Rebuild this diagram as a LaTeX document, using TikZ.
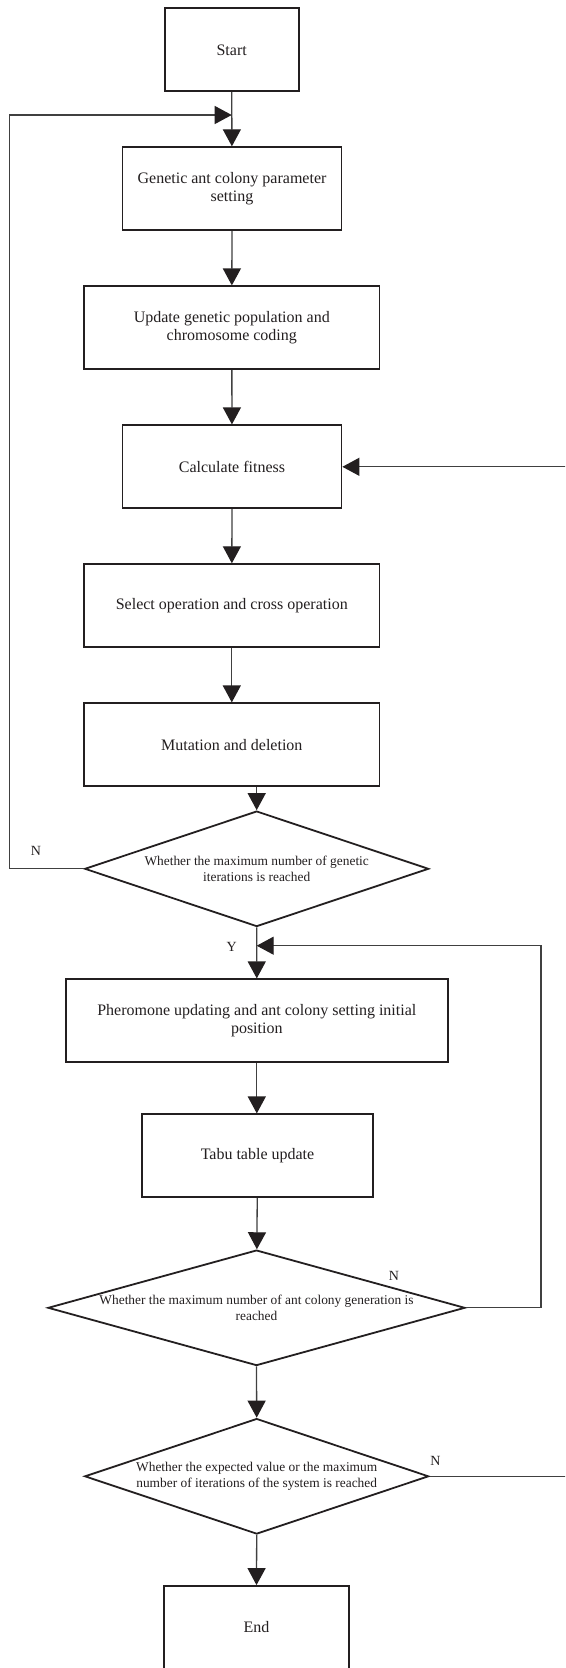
\documentclass[tikz,border=0pt]{standalone}
\usepackage{fontspec}
\setmainfont{Liberation Serif}
\usetikzlibrary{arrows.meta,shapes.geometric}
\definecolor{ink}{HTML}{231F20}
\definecolor{wirec}{HTML}{404040}
\begin{document}
\begin{tikzpicture}[x=1pt,y=-1pt,
 box/.style={draw=ink,line width=1.8pt,rectangle,minimum height=83pt,inner sep=0pt,align=center,text=ink,font=\fontsize{16}{18.3}\selectfont},
 dec/.style={draw=ink,line width=1.8pt,diamond,inner sep=0pt,minimum height=115.5pt},
 dtext/.style={align=center,text=ink,font=\fontsize{13.4}{16}\selectfont,inner sep=0pt},
 lab/.style={text=ink,font=\fontsize{14}{16}\selectfont,inner sep=0pt},
 wire/.style={draw=wirec,line width=1.3pt},
 arr/.style={wire,-{Triangle[length=17pt,width=18pt,color=ink]}}]
\fill[white] (0,0) rectangle (565,1668);
\useasboundingbox (0,0) rectangle (565,1668);
\clip (0,0) rectangle (565,1668);

\node[box,minimum width=134pt] (start) at (231.7,49.8) {Start};
\node[box,minimum width=219pt] (param) at (232,188.7) {Genetic ant colony parameter\\setting};
\node[box,minimum width=295.5pt] (update) at (231.8,327.8) {Update genetic population and\\chromosome coding};
\node[box,minimum width=219pt] (fit) at (232,466.8) {Calculate fitness};
\node[box,minimum width=295.5pt] (sel) at (231.8,605.7) {Select operation and cross operation};
\node[box,minimum width=295.5pt] (mut) at (231.8,744.8) {Mutation and deletion};
\node[dec,minimum width=344pt] (d1) at (256.7,868.8) {};
\node[dtext] (d1t) at (d1.center) {Whether the maximum number of genetic\\iterations is reached};
\node[box,minimum width=382.4pt] (pher) at (256.8,1020.8) {Pheromone updating and ant colony setting initial\\position};
\node[box,minimum width=231.7pt] (tabu) at (257.5,1155.8) {Tabu table update};
\node[dec,minimum width=417pt] (d2) at (256.5,1307.8) {};
\node[dtext] (d2t) at (d2.center) {Whether the maximum number of ant colony generation is\\reached};
\node[dec,minimum width=344pt] (d3) at (256.7,1476.3) {};
\node[dtext] (d3t) at (d3.center) {Whether the expected value or the maximum\\number of iterations of the system is reached};
\node[box,minimum width=184.4pt] (end) at (256.5,1627.5) {End};

\coordinate (j1) at (231.7,115);
\coordinate (j2) at (256.7,945.7);

\draw[arr] (start) -- (param);
\draw[arr] (param) -- (update);
\draw[arr] (update) -- (fit);
\draw[arr] (fit) -- (sel);
\draw[arr] (sel) -- (mut);
\draw[arr] (mut.south -| d1.north) -- (d1.north);
\draw[arr] (d1.west) -- ++(-74,0) |- (j1);
\draw[arr] (d1.south) -- (pher.north);
\draw[arr] (pher.south) -- (pher.south |- tabu.north);
\draw[arr] (tabu) -- (d2);
\draw[arr] (d2.east) -- ++(75,0) |- (j2);
\draw[arr] (d2.south) -- (d3.north);
\draw[arr] (d3.south) -- (end.north);
\draw[arr] (d3.east) -- ++(160,0) |- (fit.east);

\node[lab] (nA) at (36,851) {N};
\node[lab] (yA) at (231.7,946.7) {Y};
\node[lab] (nB) at (393.9,1276) {N};
\node[lab] (nC) at (435.5,1460.7) {N};
\end{tikzpicture}
\end{document}
